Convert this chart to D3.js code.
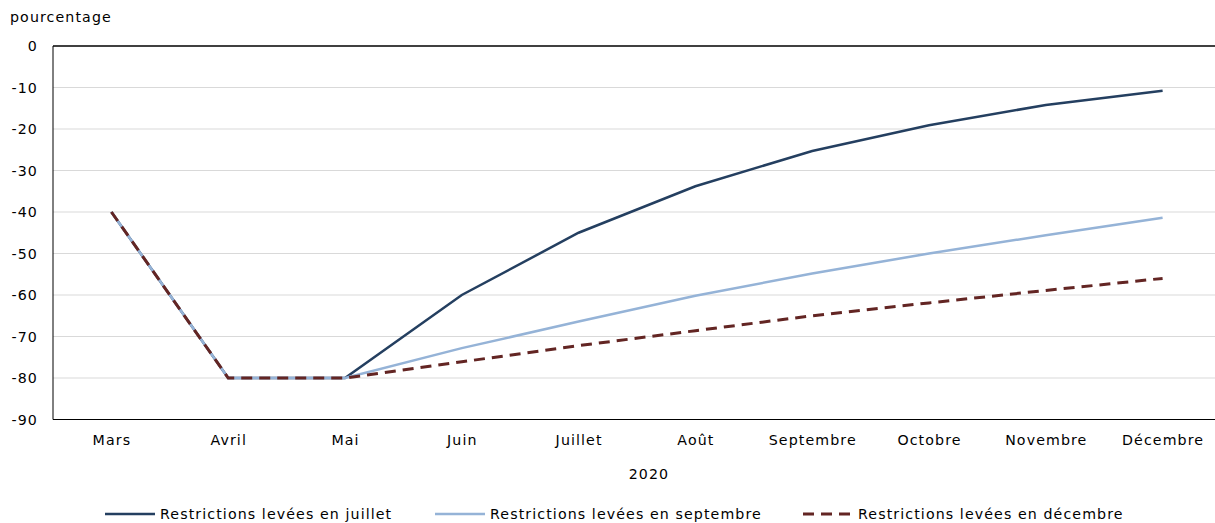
<!DOCTYPE html>
<html>
<head>
<meta charset="utf-8">
<script src="https://cdn.jsdelivr.net/npm/d3@7"></script>
<style>
  body { margin: 0; background: #fff; }
  svg text { font-family: "DejaVu Sans", Verdana, sans-serif; font-size: 14.2px; letter-spacing: 1.1px; fill: #000; }
</style>
</head>
<body>
<div id="chart"></div>
<script>
const months = ["Mars", "Avril", "Mai", "Juin", "Juillet", "Août", "Septembre", "Octobre", "Novembre", "Décembre"];
const juillet = [-40, -80, -80, -60, -45, -33.8, -25.3, -19.1, -14.2, -10.8];
const septembre = [-40, -80, -80, -72.8, -66.4, -60.2, -54.8, -50.0, -45.6, -41.4];
const decembre = [-40, -80, -80, -76.1, -72.2, -68.6, -65.0, -61.9, -58.9, -56.0];
const yTicks = [0, -10, -20, -30, -40, -50, -60, -70, -80, -90];

const series = [
    { name: "Restrictions levées en juillet", values: juillet, color: "#243f60", dash: null, width: 2.5 },
    { name: "Restrictions levées en septembre", values: septembre, color: "#95b3d7", dash: null, width: 2.5 },
    { name: "Restrictions levées en décembre", values: decembre, color: "#632523", dash: "11,7", width: 3 }
];

const width = 1215, height = 523;
const plotLeft = 53, plotTop = 46, plotBottom = 419.5, plotRight = 1221;

const svg = d3.select("#chart").append("svg")
    .attr("width", width)
    .attr("height", height);

const x = d3.scalePoint().domain(months).range([plotLeft, plotRight]).padding(0.5);
const y = d3.scaleLinear().domain([-90, 0]).range([plotBottom, plotTop]);

// grid lines
svg.append("g")
    .selectAll("line")
    .data(yTicks.filter(d => d !== 0 && d !== -90))
    .enter().append("line")
    .attr("x1", plotLeft).attr("x2", width)
    .attr("y1", d => y(d)).attr("y2", d => y(d))
    .style("stroke", "#d9d9d9")
    .style("stroke-width", "1px");

// y axis labels (plain hyphen, like the original)
const yAxis = svg.append("g")
    .attr("transform", `translate(${plotLeft},0)`)
    .call(d3.axisLeft(y).tickValues(yTicks).tickFormat(d => String(d)).tickSize(0).tickPadding(15));
yAxis.select(".domain").remove();

// x axis labels
const xAxis = svg.append("g")
    .attr("transform", `translate(0,${plotBottom})`)
    .call(d3.axisBottom(x).tickSize(0).tickPadding(15.5));
xAxis.select(".domain").remove();

svg.selectAll(".tick text")
    .style("font-family", "DejaVu Sans, Verdana, sans-serif")
    .style("font-size", "14.2px");

// axis lines
svg.append("line")
    .attr("x1", plotLeft).attr("x2", width)
    .attr("y1", y(0)).attr("y2", y(0))
    .style("stroke", "#000").style("stroke-width", "1.5px");
svg.append("line")
    .attr("x1", plotLeft).attr("x2", width)
    .attr("y1", plotBottom).attr("y2", plotBottom)
    .style("stroke", "#000").style("stroke-width", "1px");
svg.append("line")
    .attr("x1", plotLeft).attr("x2", plotLeft)
    .attr("y1", plotTop).attr("y2", plotBottom)
    .style("stroke", "#000").style("stroke-width", "1px");

svg.append("text")
    .attr("x", 10).attr("y", 22)
    .text("pourcentage");

svg.append("text")
    .attr("x", 649).attr("y", 479)
    .style("text-anchor", "middle")
    .text("2020");

// lines: december dashes end up on top, as in the original
const line = d3.line()
    .x((d, i) => x(months[i]))
    .y(d => y(d));

svg.append("g")
    .selectAll("path")
    .data(series)
    .enter().append("path")
    .attr("d", d => line(d.values))
    .style("fill", "none")
    .style("stroke", d => d.color)
    .style("stroke-width", d => d.width + "px")
    .style("stroke-dasharray", d => d.dash);

// legend
const legendX = [105, 435, 803];
const legend = svg.append("g")
    .selectAll("g")
    .data(series)
    .enter().append("g")
    .attr("transform", (d, i) => `translate(${legendX[i]},514)`);

legend.append("line")
    .attr("x1", 0).attr("x2", 50)
    .attr("y1", 0).attr("y2", 0)
    .style("stroke", d => d.color)
    .style("stroke-width", d => d.width + "px")
    .style("stroke-dasharray", d => d.dash);

legend.append("text")
    .attr("x", 55)
    .attr("dy", "0.35em")
    .text(d => d.name);
</script>
</body>
</html>
